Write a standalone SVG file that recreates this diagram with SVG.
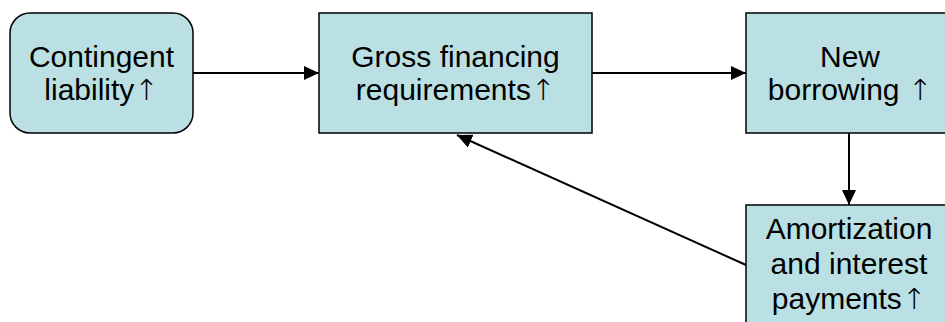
<svg xmlns="http://www.w3.org/2000/svg" width="945" height="322" viewBox="0 0 945 322">
<style>
.box{fill:#BAE0E3;stroke:#000;stroke-width:1.5}
.t{font-family:"Liberation Sans",Arial,sans-serif;font-size:30px;fill:#000;text-anchor:middle}
.ar{font-family:"DejaVu Sans",sans-serif;font-size:29px;font-weight:300}
.c{stroke:#000;stroke-width:2;fill:none;marker-end:url(#ah)}
</style>
<defs>
<marker id="ah" viewBox="0 0 15 14" refX="15" refY="7" markerWidth="15" markerHeight="14" markerUnits="userSpaceOnUse" orient="auto">
<path d="M0,0 L15,7 L0,14 z" fill="#000"/>
</marker>
</defs>
<rect width="945" height="322" fill="#fff"/>
<g id="connectors">
<line class="c" x1="193" y1="73" x2="319" y2="73"/>
<line class="c" x1="592" y1="73" x2="746" y2="73"/>
<line class="c" x1="849" y1="133" x2="849" y2="205"/>
<line class="c" x1="746" y1="265" x2="457" y2="135"/>
</g>
<g id="contingent">
<rect class="box" x="10" y="13" width="183" height="120" rx="20"/>
<text class="t" x="101.5" y="67">Contingent</text>
<text class="t" x="101.5" y="100">liability<tspan class="ar">↑</tspan></text>
</g>
<g id="gross">
<rect class="box" x="319" y="13" width="273" height="120"/>
<text class="t" x="455.5" y="67">Gross financing</text>
<text class="t" x="455.5" y="100">requirements<tspan class="ar">↑</tspan></text>
</g>
<g id="newborrowing">
<rect class="box" x="746" y="13" width="208" height="120"/>
<text class="t" x="850" y="67">New</text>
<text class="t" x="850" y="100">borrowing <tspan class="ar">↑</tspan></text>
</g>
<g id="amortization">
<rect class="box" x="746" y="205" width="208" height="130"/>
<text class="t" x="849" y="239">Amortization</text>
<text class="t" x="849" y="274">and interest</text>
<text class="t" x="849" y="309">payments<tspan class="ar">↑</tspan></text>
</g>
</svg>
